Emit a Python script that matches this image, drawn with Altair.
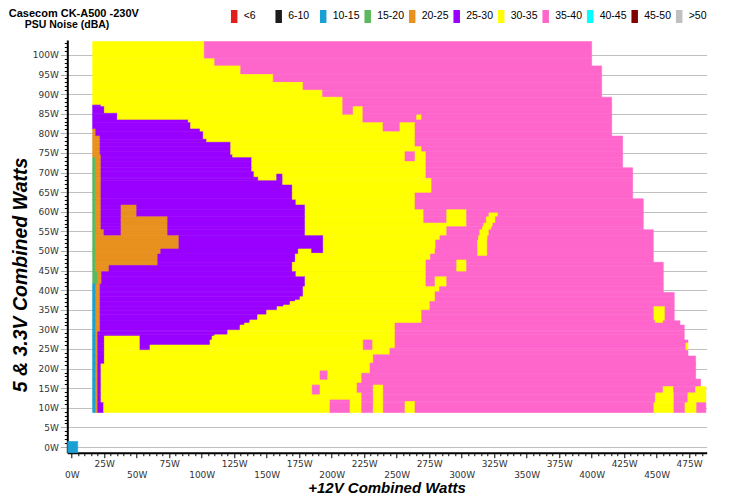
import altair as alt
import pandas as pd

TITLE = "Casecom CK-A500 -230V"
SUBTITLE = "PSU Noise (dBA)"
X_TITLE = "+12V Combined Watts"
Y_TITLE = "5 & 3.3V Combined Watts"

categories = ["<6", "6-10", "10-15", "15-20", "20-25", "25-30", "30-35", "35-40", "40-45", "45-50", ">50"]
colors = ["#e0201f", "#1c1c1c", "#1aa0d2", "#5cb85c", "#e8911f", "#9900ff", "#ffff00", "#ff66cc", "#00ffff", "#800000", "#c0c0c0"]
codes = {"b": "10-15", "g": "15-20", "o": "20-25", "v": "25-30", "y": "30-35", "p": "35-40"}

# (low W, high W, runs "<code><start W> ... e<end W>") for the 5V&3.3V axis bands
bands = [
    (99.0, 103.4, "y16.1 p102 e400"),
    (97.2, 99.0, "y16.1 p110 e400"),
    (95.0, 97.2, "y16.1 p130 e407.7"),
    (93.0, 95.0, "y16.1 p155 e407.7"),
    (91.0, 93.0, "y16.1 p178 e407.7"),
    (89.2, 91.0, "y16.1 p193 e407.7"),
    (87.2, 89.2, "y16.1 p208.5 e415.4"),
    (86.8, 87.2, "v16.1 y22.5 p208.5 e415.4"),
    (85.1, 86.8, "v16.1 y25.1 p208.5 y216.5 p224 e415.4"),
    (84.7, 85.1, "v16.1 y35.1 p208.5 y216.5 p224 e415.4"),
    (83.4, 84.7, "v16.1 y35.1 p224 y265.4 p269.2 e415.4"),
    (82.7, 83.4, "v16.1 y89.7 p224 e415.4"),
    (81.1, 82.7, "v16.1 y91.5 p239.5 y252.5 p264.1 e415.4"),
    (80.4, 81.1, "o16.1 v18.5 y98.7 p239.5 y252.5 p264.1 e415.4"),
    (79.3, 80.4, "o16.1 v18.5 y101.2 p264.1 e415.4"),
    (78.5, 79.3, "o16.1 v21.8 y101.2 p264.1 e423.8"),
    (77.7, 78.5, "o16.1 v21.8 y103.8 p264.1 e423.8"),
    (76.6, 77.7, "o16.1 v21.8 y122.3 p264.1 e423.8"),
    (75.3, 76.6, "o16.1 v21.8 y122.3 p269.2 e423.8"),
    (74.5, 75.3, "o16.1 v21.8 y122.3 p256.4 y264.1 p272.5 e423.8"),
    (73.8, 74.5, "o16.1 v22.5 y123.8 p256.4 y264.1 p272.5 e423.8"),
    (72.8, 73.8, "g16.1 o18.5 v22.5 y138.5 p256.4 y264.1 p272.5 e423.8"),
    (71.2, 72.8, "g16.1 o18.5 v22.5 y138.5 p272.5 e423.8"),
    (70.2, 71.2, "g16.1 o18.5 v22.5 y138.5 p272.5 e431.5"),
    (69.6, 70.2, "g16.1 o18.5 v22.5 y140.2 p272.5 e431.5"),
    (68.8, 69.6, "g16.1 o18.5 v22.5 y140.2 v157.7 y162.3 p272.5 e431.5"),
    (68.5, 68.8, "g16.1 o18.5 v22.5 y143.5 v157.7 y162.3 p272.5 e431.5"),
    (67.9, 68.5, "g16.1 o18.5 v22.5 y143.5 v157.7 y162.3 p276.9 e431.5"),
    (66.8, 67.9, "g16.1 o18.5 v22.5 y162.3 p276.9 e431.5"),
    (64.8, 66.8, "g16.1 o18.5 v22.5 y169.7 p276.9 e431.5"),
    (63.3, 64.8, "g16.1 o18.5 v22.5 y169.7 p264.1 e431.5"),
    (63.0, 63.3, "g16.1 o18.5 v22.5 y169.7 p264.1 e439.7"),
    (61.7, 63.0, "g16.1 o18.5 v22.5 y172.5 p264.1 e439.7"),
    (60.5, 61.7, "g16.1 o18.5 v22.5 o37.9 v50 y179.5 p264.1 e439.7"),
    (59.7, 60.5, "g16.1 o18.5 v22.5 o37.9 v50 y179.5 p270.8 y288.5 p303.8 e439.7"),
    (58.7, 59.7, "g16.1 o18.5 v22.5 o37.9 v50 y179.5 p270.8 y288.5 p303.8 y321 p328 e439.7"),
    (57.1, 58.7, "g16.1 o18.5 v22.5 o37.9 v73.8 y179.5 p270.8 y288.5 p303.8 y319 p326 e439.7"),
    (56.2, 57.1, "g16.1 o18.5 v22.5 o37.9 v73.8 y179.5 p303.8 y317 p324 e439.7"),
    (55.4, 56.2, "g16.1 o18.5 v22.5 o37.9 v73.8 y179.5 p288.5 y316 p323 e439.7"),
    (53.9, 55.4, "g16.1 o18.5 v24.8 o37.9 v73.8 y179.5 p288.5 y314 p321 e447.4"),
    (52.8, 53.9, "g16.1 o18.5 v82.5 y193.5 p283.3 y313 p320 e447.4"),
    (50.5, 52.8, "g16.1 o18.5 v82.5 y193.5 p280 y312.3 p319.7 e447.4"),
    (49.4, 50.5, "g16.1 o18.5 v68.5 y174.3 v184.6 y193.5 p279.5 y312.3 p319.7 e447.4"),
    (49.2, 49.4, "g16.1 o18.5 v68.5 y174.3 p279.5 y312.3 p319.7 e447.4"),
    (48.7, 49.2, "g16.1 o18.5 v66.2 y172 p276 y312.3 p319.7 e447.4"),
    (47.7, 48.7, "g16.1 o18.5 v66.2 y172 p276 e447.4"),
    (47.1, 47.7, "g16.1 o18.5 v66.2 y172 p272.5 y296.2 p303.8 e447.4"),
    (46.3, 47.1, "g16.1 o18.5 v66.2 y169.7 p272.5 y296.2 p303.8 e455.1"),
    (44.7, 46.3, "g16.1 o18.5 v28.7 y169.7 p272.5 y296.2 p303.8 e455.1"),
    (43.4, 44.7, "g16.1 o20 v23 y172.5 p272.5 e455.1"),
    (41.6, 43.4, "g16.1 o20 v23 y179.5 p272.5 y279.5 p288.5 e455.1"),
    (40.9, 41.6, "b16.1 o18.5 v21.8 y179.5 p272.5 y279.5 p288.5 e455.1"),
    (39.6, 40.9, "b16.1 o18.5 v21.8 y178 p283 e455.1"),
    (39.4, 39.6, "b16.1 o18.5 v21.8 y178 p279.5 e455.1"),
    (38.3, 39.4, "b16.1 o18.5 v21.8 y178 p279.5 e463.5"),
    (37.5, 38.3, "b16.1 o18.5 v21.8 y175.6 p279.5 e463.5"),
    (37.1, 37.5, "b16.1 o18.5 v21.8 y172 p279.5 e463.5"),
    (36.2, 37.1, "b16.1 o18.5 v21.8 y168 p275.6 e463.5"),
    (35.8, 36.2, "b16.1 o18.5 v21.8 y163 p275.6 e463.5"),
    (34.9, 35.8, "b16.1 o18.5 v21.8 y158 p275.6 y447.9 p456.4 e463.5"),
    (33.7, 34.9, "b16.1 o18.5 v21.8 y150 p269.2 y447.9 p456.4 e463.5"),
    (32.4, 33.7, "b16.1 o18.5 v21.8 y143 p269.2 y447.9 p456.4 e463.5"),
    (32.2, 32.4, "b16.1 o18.5 v21.8 y137 p269.2 y447.9 p456.4 e463.5"),
    (31.6, 32.2, "b16.1 o18.5 v21.8 y137 p269.2 y449 p455 e467.9"),
    (31.1, 31.6, "b16.1 o18.5 v21.8 y133 p248.7 e467.9"),
    (29.8, 31.1, "b16.1 o18.5 v21.8 y129.5 p248.7 e471.2"),
    (29.4, 29.8, "b16.1 o18.5 v21.8 y120 p248.7 e471.2"),
    (28.6, 29.4, "b16.1 o18.5 v20 y120 p248.7 e471.2"),
    (28.3, 28.6, "b16.1 o18.5 v20 y110 p248.7 e471.2"),
    (27.3, 28.3, "b16.1 o18.5 v20 y25.1 v52.5 y108 p248.7 e471.2"),
    (26.5, 27.3, "b16.1 o18.5 v20 y25.1 v52.5 y106.4 p224.3 y231.5 p248.7 e474.1"),
    (26.0, 26.5, "b16.1 o18.5 v20 y25.1 v52.5 y106.4 p224.3 y231.5 p248.7 y472.5 e474.1"),
    (25.2, 26.0, "b16.1 o18.5 v20 y25.1 v52.5 y60.2 p224.3 y231.5 p248.7 y472.5 e474.1"),
    (24.7, 25.2, "b16.1 o18.5 v20 y25.1 v52.5 y60.2 p224.3 y231.5 p244.8 y472.5 e474.1"),
    (23.5, 24.7, "b16.1 o18.5 v20 y25.1 p244.8 e474.1"),
    (23.2, 23.5, "b16.1 o18.5 v20 y25.1 p232 e474.1"),
    (21.4, 23.2, "b16.1 o18.5 v20 y25.1 p232 e480"),
    (21.2, 21.4, "b16.1 o18.5 v20 y25.1 p229.5 e480"),
    (19.4, 21.2, "b16.1 o18.5 v20 y22.5 p229.5 e480"),
    (18.8, 19.4, "b16.1 o18.5 v20 y22.5 p191 y197 p229.5 e480"),
    (17.3, 18.8, "b16.1 o18.5 v20 y22.5 p191 y197 p223.1 e480"),
    (17.1, 17.3, "b16.1 o18.5 v20 y22.5 p191 y197 p223.1 e483.8"),
    (16.3, 17.1, "b16.1 o18.5 v20 y22.5 p223.1 e483.8"),
    (15.8, 16.3, "b16.1 o18.5 v20 y22.5 p219.5 e483.8"),
    (15.4, 15.8, "b16.1 o18.5 v20 y22.5 p185 y191 p219.5 y232 p239.7 e483.8"),
    (13.8, 15.4, "b16.1 o18.5 v20 y22.5 p185 y191 p219.5 y232 p239.7 y455 p463 y480 e487.9"),
    (13.3, 13.8, "b16.1 o18.5 v20 y22.5 p185 y191 p223.1 y232 p239.7 y449 p463.3 y474 e487.9"),
    (12.0, 13.3, "b16.1 o18.5 v20 y22.5 p223.1 y232 p239.7 y449 p463.3 y474 e487.9"),
    (11.6, 12.0, "b16.1 o18.5 v20 y22.5 p198.7 y214.1 p223.1 y232 p239.7 y449 p463.3 y474 e487.9"),
    (11.3, 11.6, "b16.1 o18.5 v20 y22.5 p198.7 y214.1 p223.1 y232 p239.7 y256.4 p264.1 y449 p463.3 y474 e487.9"),
    (8.8, 11.3, "b16.1 o18.5 v20 y24.6 p198.7 y214.1 p223.1 y232 p239.7 y256.4 p264.1 y447.9 p463.3 y471.8 p480.8 e487.9"),
    (-1.45, 1.4, "b-3.1 e4.6"),
]

x_ticks = list(range(0, 489, 5))
y_ticks = list(range(0, 104))

rows = []
for lo, hi, spec in bands:
    toks = spec.split()
    for a, b in zip(toks[:-1], toks[1:]):
        rows.append({"x0": float(a[1:]), "x1": float(b[1:]), "y0": lo, "y1": hi, "noise": codes[a[0]]})
df = pd.DataFrame(rows)

W, H = 639.4, 412.7
PAD_L, PAD_T = 59.3, 32.0

x_axis = alt.Axis(
    values=x_ticks,
    labelExpr="datum.value % 25 === 0 ? datum.value + 'W' : ''",
    tickSize={"condition": {"test": "datum.value % 25 === 0", "value": 5}, "value": 3},
    labelPadding={"condition": {"test": "datum.value % 50 === 0", "value": 12.5}, "value": 2},
    tickColor="black",
    tickWidth=1,
    domainColor="black",
    domainWidth=2,
    grid=False,
    labelFont="DejaVu Sans",
    labelFontSize=9,
    labelColor="#333333",
    labelOverlap=False,
    labelFlush=False,
    labelBound=False,
    title=None,
)
y_axis = alt.Axis(
    values=y_ticks,
    labelExpr="datum.value % 5 === 0 ? datum.value + 'W' : ''",
    tickSize={"condition": {"test": "datum.value % 5 === 0", "value": 7}, "value": 3},
    tickColor={"condition": {"test": "datum.value % 5 === 0", "value": "#b0b0b0"}, "value": "black"},
    gridOpacity={"condition": {"test": "datum.value % 5 === 0", "value": 1}, "value": 0},
    gridColor="#c0c0c0",
    gridWidth=1,
    grid=True,
    domainColor="black",
    domainWidth=2,
    labelFont="DejaVu Sans",
    labelFontSize=9,
    labelColor="#333333",
    labelPadding=2,
    labelOverlap=False,
    labelFlush=False,
    labelBound=False,
    title=None,
)

legend = alt.Legend(
    orient="none",
    legendX=160.4,
    legendY=-30,
    direction="horizontal",
    columns=11,
    gridAlign="all",
    symbolType="M-0.5,-1H0.5V1H-0.5Z",
    symbolSize=169,
    symbolStrokeWidth=0,
    symbolOpacity=1,
    labelFont="Liberation Sans",
    labelFontSize=10.5,
    labelColor="#000000",
    labelOffset=3,
    columnPadding=1.5,
    padding=0,
    title=None,
)

heat = alt.Chart(df).mark_rect(strokeWidth=0.6).encode(
    x=alt.X("x0:Q", scale=alt.Scale(domain=[-3.4, 488.5], nice=False, zero=False), axis=x_axis),
    x2="x1:Q",
    y=alt.Y("y0:Q", scale=alt.Scale(domain=[-1.45, 103.8], nice=False, zero=False), axis=y_axis),
    y2="y1:Q",
    color=alt.Color("noise:N", scale=alt.Scale(domain=categories, range=colors), legend=legend),
    stroke=alt.Stroke("noise:N", scale=alt.Scale(domain=categories, range=colors), legend=None),
)

def label(text, x, y, size, style="normal", weight="bold", angle=0, align="left", baseline="alphabetic"):
    return alt.Chart(pd.DataFrame({"t": [text]})).mark_text(
        font="Liberation Sans", fontSize=size, fontWeight=weight, fontStyle=style,
        angle=angle, align=align, baseline=baseline, color="black",
    ).encode(x=alt.value(x), y=alt.value(y), text="t:N")

chart = alt.layer(
    heat,
    label(TITLE, -58.5, -23, 11),
    label(SUBTITLE, -42.5, -11.5, 10.5),
    label(X_TITLE, 319.7, 453.4, 15, style="italic", align="center"),
    label(Y_TITLE, -46, 235, 19.5, style="italic", angle=270, align="center", baseline="middle"),
).properties(
    width=W, height=H,
    padding={"left": PAD_L, "top": PAD_T, "right": 14, "bottom": 44},
    autosize="none",
    background="white",
).configure_view(strokeWidth=0)

chart.save("out.html", embed_options={"renderer": "svg", "actions": False})
